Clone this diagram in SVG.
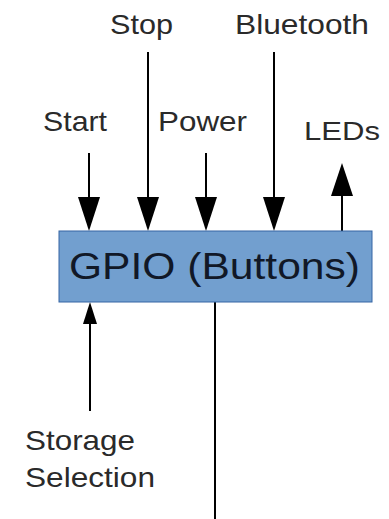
<svg xmlns="http://www.w3.org/2000/svg" width="389" height="519" viewBox="0 0 389 519">
<style>
.lbl{font-family:"Liberation Sans",Arial,sans-serif;font-size:28px;fill:#2a2a2a}
.ln{stroke:#000;stroke-width:2;fill:none}
.hd{fill:#000}
</style>
<rect width="389" height="519" fill="#fff"/>
<g id="connectors">
<line class="ln" x1="89" y1="153" x2="89" y2="200"/>
<polygon class="hd" points="78,197 100,197 89,231"/>
<line class="ln" x1="148" y1="52" x2="148" y2="200"/>
<polygon class="hd" points="137,197 159,197 148,231"/>
<line class="ln" x1="206" y1="153" x2="206" y2="200"/>
<polygon class="hd" points="195,197 217,197 206,231"/>
<line class="ln" x1="274" y1="52" x2="274" y2="200"/>
<polygon class="hd" points="263,197 285,197 274,231"/>
<line class="ln" x1="342" y1="231" x2="342" y2="193"/>
<polygon class="hd" points="331,196 353,196 342,163"/>
<line class="ln" x1="90" y1="411" x2="90" y2="320"/>
<polygon class="hd" points="83,324 97,324 90,302"/>
<line class="ln" x1="215" y1="302" x2="215" y2="519"/>
</g>
<g id="gpio">
<rect x="59" y="231" width="313" height="71" fill="#729fcf" stroke="#3465a4" stroke-width="1"/>
<text x="69" y="279" font-family="'Liberation Sans',Arial,sans-serif" font-size="36" fill="#111827" textLength="291" lengthAdjust="spacingAndGlyphs">GPIO (Buttons)</text>
</g>
<g id="stop"><text class="lbl" x="110" y="34" textLength="63" lengthAdjust="spacingAndGlyphs">Stop</text></g>
<g id="bluetooth"><text class="lbl" x="235" y="34" textLength="134" lengthAdjust="spacingAndGlyphs">Bluetooth</text></g>
<g id="start"><text class="lbl" x="43" y="131" textLength="64" lengthAdjust="spacingAndGlyphs">Start</text></g>
<g id="power"><text class="lbl" x="158" y="131" textLength="89" lengthAdjust="spacingAndGlyphs">Power</text></g>
<g id="leds"><text class="lbl" x="304" y="140" style="font-size:25px" textLength="76" lengthAdjust="spacingAndGlyphs">LEDs</text></g>
<g id="storage"><text class="lbl" x="25" y="450" textLength="110" lengthAdjust="spacingAndGlyphs">Storage</text><text class="lbl" x="25" y="487" textLength="130" lengthAdjust="spacingAndGlyphs">Selection</text></g>
</svg>
